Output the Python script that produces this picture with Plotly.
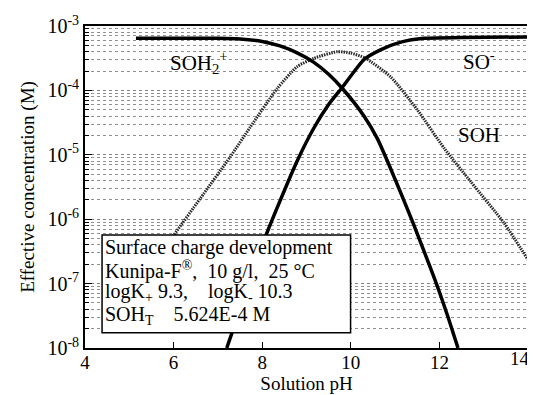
import plotly.graph_objects as go

# ---- data ----
ph_soh2 = [5.15, 6.0, 7.0, 7.5, 8.0, 8.4, 8.8, 9.16, 9.5, 9.81, 10.3, 10.6, 11.0, 11.4, 11.8, 12.0, 12.2, 12.42]
c_soh2 = [6.46e-4, 6.46e-4, 6.46e-4, 6.31e-4, 5.75e-4, 4.90e-4, 3.80e-4, 2.75e-4, 1.78e-4, 1.07e-4,
          3.98e-5, 1.78e-5, 4.17e-6, 8.91e-7, 1.74e-7, 7.41e-8, 2.95e-8, 1.0e-8]

ph_so = [7.2, 7.6, 8.0, 8.4, 8.8, 9.17, 9.5, 9.81, 10.3, 10.67, 11.13, 11.65, 12.5, 14.0]
c_so = [1.0e-8, 6.31e-8, 3.98e-7, 1.91e-6, 8.32e-6, 2.63e-5, 6.03e-5, 1.12e-4, 3.02e-4, 4.27e-4,
        5.62e-4, 6.46e-4, 6.61e-4, 6.76e-4]

ph_soh = [5.15, 5.6, 6.0, 6.6, 7.28, 7.73, 8.34, 8.79, 9.17, 9.69, 10.0, 10.33, 10.9, 11.5, 12.11, 12.71, 13.46, 14.0]
c_soh = [8.91e-8, 2.40e-7, 5.62e-7, 2.09e-6, 9.33e-6, 2.69e-5, 1.07e-4, 2.34e-4, 3.16e-4, 3.98e-4,
         3.80e-4, 3.16e-4, 1.62e-4, 5.01e-5, 1.26e-5, 3.80e-6, 8.71e-7, 2.34e-7]

x_ticks = [4, 6, 8, 10, 12, 14]
x_ticktext = ["4", "6", "8", "10", "12", ""]   # "14" sits at the window edge, drawn as an annotation
x_last_label = "14"
y_ticks = [1e-8, 1e-7, 1e-6, 1e-5, 1e-4, 1e-3]
y_ticktext = ["10<sup>-8</sup>", "10<sup>-7</sup>", "10<sup>-6</sup>", "10<sup>-5</sup>",
              "10<sup>-4</sup>", "10<sup>-3</sup>"]
y_minor = [m * 10.0 ** e for e in range(-8, -3) for m in range(2, 10)]

box_lines = [
    "Surface charge development",
    "Kunipa-F<sup>®</sup>,  10 g/l,  25 °C",
    "logK<sub>+</sub> 9.3,    logK<sub>-</sub> 10.3",
    "SOH<sub>T</sub>    5.624E-4 M",
]

FONT = "Liberation Serif"

fig = go.Figure()
fig.add_trace(go.Scatter(x=ph_soh, y=c_soh, mode="lines",
                         line=dict(color="#2a2a2a", width=3, dash="1.5px,1px", shape="spline", smoothing=0.6),
                         showlegend=False))
fig.add_trace(go.Scatter(x=ph_soh2, y=c_soh2, mode="lines",
                         line=dict(color="black", width=3.5, shape="spline", smoothing=0.6),
                         showlegend=False))
fig.add_trace(go.Scatter(x=ph_so, y=c_so, mode="lines",
                         line=dict(color="black", width=3.5, shape="spline", smoothing=0.6),
                         showlegend=False))

# info box
fig.add_shape(type="rect", xref="paper", yref="paper", x0=0.0385, x1=0.5995, y0=0.047, y1=0.351,
              fillcolor="white", line=dict(color="black", width=1.5), layer="above")
line_y = [0.313, 0.240, 0.171, 0.100]
for t, yy in zip(box_lines, line_y):
    fig.add_annotation(text=t.replace("    ", "&nbsp;&nbsp;&nbsp;&nbsp;").replace("  ", "&nbsp;&nbsp;"),
                       xref="paper", yref="paper", x=0.041, y=yy,
                       xanchor="left", yanchor="middle", showarrow=False,
                       font=dict(family=FONT, size=20, color="black"))

# curve labels
fig.add_annotation(text="SOH<sub>2</sub><sup>+</sup>", x=5.88, y=-3.56, xanchor="left", yanchor="middle",
                   showarrow=False, font=dict(family=FONT, size=21, color="black"))
fig.add_annotation(text="SO<sup>-</sup>", x=12.48, y=-3.53, xanchor="left", yanchor="middle",
                   showarrow=False, font=dict(family=FONT, size=21, color="black"))
fig.add_annotation(text="SOH", x=12.37, y=-4.69, xanchor="left", yanchor="middle",
                   showarrow=False, font=dict(family=FONT, size=21, color="black"))

# last x tick label, right-aligned at the edge of the window
fig.add_annotation(text=x_last_label, xref="paper", yref="paper", x=1, y=0, xshift=3, yshift=-10,
                   xanchor="right", yanchor="middle", showarrow=False, borderpad=0,
                   font=dict(family=FONT, size=19, color="black"))

fig.update_xaxes(range=[4, 14], tickvals=x_ticks, ticktext=x_ticktext, ticks="inside", ticklen=6, tickwidth=1.2,
                 tickcolor="black", showline=True, linecolor="black", linewidth=1.8, mirror=True,
                 showgrid=False, zeroline=False, automargin=False, ticklabelstandoff=-4,
                 title=dict(text="Solution pH", font=dict(family=FONT, size=19, color="black"), standoff=2),
                 tickfont=dict(family=FONT, size=19, color="black"))
fig.update_yaxes(type="log", range=[-8, -3], tickmode="array", tickvals=y_ticks, ticktext=y_ticktext,
                 ticks="inside", ticklen=7, tickwidth=1.2, tickcolor="black",
                 showline=True, linecolor="black", linewidth=1.8, mirror=True, automargin=False,
                 ticklabeloverflow="allow",
                 showgrid=True, gridcolor="#808080", griddash="dot", gridwidth=1,
                 minor=dict(tickmode="array", tickvals=y_minor, ticks="inside", ticklen=4,
                            tickcolor="black", showgrid=True, gridcolor="#909090", griddash="dot", gridwidth=1),
                 title=dict(text="Effective concentration (M)", font=dict(family=FONT, size=19, color="black"),
                            standoff=8),
                 tickfont=dict(family=FONT, size=20, color="black"))

# the page places the figure 8px in from the top-left corner, so the figure is sized to fit the window
fig.update_layout(width=527, height=387, margin=dict(l=77, r=7, t=18, b=47),
                  plot_bgcolor="white", paper_bgcolor="white",
                  font=dict(family=FONT, color="black"))

fig.write_html("out.html")
